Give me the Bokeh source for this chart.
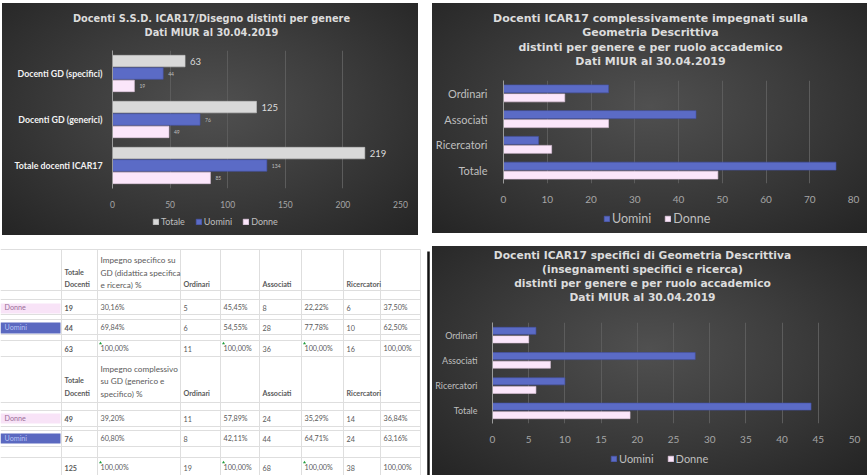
from bokeh.plotting import figure
from bokeh.layouts import row, column
from bokeh.models import (Range1d, FactorRange, SingleIntervalTicker, Legend,
                          LegendItem, Label, ColumnDataSource)
from bokeh.transform import dodge
from bokeh.core.properties import value
from bokeh.embed import file_html
from bokeh.resources import INLINE

# ---------------- data ----------------
c1_categories = ["Docenti GD (specifici)", "Docenti GD (generici)", "Totale docenti ICAR17"]
c1_totale = [63, 125, 219]
c1_uomini = [44, 76, 134]
c1_donne = [19, 49, 85]

c2_categories = ["Ordinari", "Associati", "Ricercatori", "Totale"]
c2_uomini = [24, 44, 8, 76]
c2_donne = [14, 24, 11, 49]

c3_categories = ["Ordinari", "Associati", "Ricercatori", "Totale"]
c3_uomini = [6, 28, 10, 44]
c3_donne = [5, 8, 6, 19]

c1_title = ["Docenti S.S.D. ICAR17/Disegno distinti per genere", "Dati MIUR al 30.04.2019"]
c2_title = ["Docenti ICAR17 complessivamente impegnati sulla", "Geometria Descrittiva",
            "distinti per genere e per ruolo accademico", "Dati MIUR al 30.04.2019"]
c3_title = ["Docenti ICAR17 specifici di Geometria Descrittiva", "(insegnamenti specifici e ricerca)",
            "distinti per genere e per ruolo accademico", "Dati MIUR al 30.04.2019"]

tbl_head_spec = ["Impegno specifico su", "GD (didattica specifica", "e ricerca)  %"]
tbl_head_comp = ["Impegno complessivo", "su GD (generico e", "specifico)  %"]
tbl_roles = ["Ordinari", "Associati", "Ricercatori"]
spec_donne = ["19", "30,16%", "5", "45,45%", "8", "22,22%", "6", "37,50%"]
spec_uomini = ["44", "69,84%", "6", "54,55%", "28", "77,78%", "10", "62,50%"]
spec_tot = ["63", "100,00%", "11", "100,00%", "36", "100,00%", "16", "100,00%"]
comp_donne = ["49", "39,20%", "11", "57,89%", "24", "35,29%", "14", "36,84%"]
comp_uomini = ["76", "60,80%", "8", "42,11%", "44", "64,71%", "24", "63,16%"]
comp_tot = ["125", "100,00%", "19", "100,00%", "68", "100,00%", "38", "100,00%"]

# ---------------- style ----------------
GRAD = "radial-gradient(ellipse at 50% 45%, #505050 0%, #3d3d3d 45%, #242424 100%)"
C_TOT = "#d9d9d9"
C_UOM = "#5b6bc6"
C_DON = "#fbe6fa"
TXT = "#dcdcdc"
TICK = "#a6a6a6"
FONT = "Lato"
TFONT = "DejaVu Sans"


def bg(w, h, off):
    return {"background-image": GRAD, "background-size": f"{w}px {h}px",
            "background-position": f"0px {-off}px", "background-repeat": "no-repeat",
            "background-color": "#2c2c2c"}


def strip(w, h, blk_h, off, margin):
    s = figure(width=w, height=h, x_range=Range1d(0, 1), y_range=Range1d(0, 1),
               output_backend="svg", toolbar_location=None, min_border=0,
               x_axis_location=None, y_axis_location=None, margin=margin,
               styles=bg(w, blk_h, off))
    s.grid.visible = False
    s.outline_line_color = None
    s.background_fill_alpha = 0
    s.border_fill_alpha = 0
    return s


def dark_fig(w, h, blk_h, off, cats, xmax, interval, left, right, top, bottom, margin,
             ylab_size, ylab_style, ylab_color, tick_size, standoff):
    p = figure(width=w, height=h,
               y_range=FactorRange(*cats[::-1]), x_range=Range1d(0, xmax),
               output_backend="svg", toolbar_location=None,
               min_border_left=left, min_border_right=right,
               min_border_top=top, min_border_bottom=bottom, margin=margin,
               styles=bg(w, blk_h, off))
    p.background_fill_alpha = 0
    p.border_fill_alpha = 0
    p.outline_line_color = None
    p.xaxis.ticker = SingleIntervalTicker(interval=interval)
    p.xaxis.axis_line_color = None
    p.xaxis.major_tick_line_color = None
    p.xaxis.minor_tick_line_color = None
    p.xaxis.major_label_text_color = TICK
    p.xaxis.major_label_text_font = FONT
    p.xaxis.major_label_text_font_size = tick_size
    p.xaxis.major_label_standoff = 6
    p.yaxis.axis_line_color = "#9a9a9a"
    p.yaxis.major_tick_line_color = None
    p.yaxis.minor_tick_line_color = None
    p.yaxis.major_label_text_color = ylab_color
    p.yaxis.major_label_text_font = FONT
    p.yaxis.major_label_text_font_size = ylab_size
    p.yaxis.major_label_text_font_style = ylab_style
    p.yaxis.major_label_standoff = standoff
    p.ygrid.grid_line_color = None
    p.xgrid.grid_line_color = "#5c5c5c"
    p.xgrid.grid_line_width = 1
    return p


def add_titles(s, lines, xc, ys, size):
    for t, y in zip(lines, ys):
        s.add_layout(Label(x=xc, y=y, x_units="screen", y_units="screen", text=t,
                           text_align="center", text_baseline="middle",
                           text_font=TFONT, text_font_style="bold",
                           text_font_size=size, text_color=TXT))


def add_legend(s, entries, loc, size, spacing):
    items = []
    for lab, fc, lc in entries:
        # swatch renderer kept outside the strip's visible range
        r = s.hbar(y=[-5], left=[-5], right=[-4], height=0.5, fill_color=fc, line_color=lc,
                   line_width=0.6)
        items.append(LegendItem(label=lab, renderers=[r]))
    s.add_layout(Legend(items=items, location=loc, orientation="horizontal",
                        background_fill_alpha=0, border_line_color=None,
                        label_text_color="#bfbfbf", label_text_font=FONT,
                        label_text_font_size=size, glyph_width=7, glyph_height=7,
                        label_height=9, label_standoff=2, spacing=spacing,
                        padding=0, margin=0))


UOM = ("Uomini", C_UOM, "#4453a8")
DON = ("Donne", C_DON, "#e3c9e1")
TOT = ("Totale", C_TOT, "#c4c4c4")

# ---------------- chart 1 (416 x 232 block) ----------------
ts1 = strip(416, 42, 232, 0, (3, 12, 0, 2))
add_titles(ts1, c1_title, 209, [27, 13], "9.8px")
p1 = dark_fig(416, 165, 232, 42, c1_categories, 250, 50, 110, 18, 5, 17, (0, 12, 0, 2),
              "8.8px", "bold", "#f2f2f2", "8.5px", 4)
src1 = ColumnDataSource(dict(cat=c1_categories, tot=c1_totale, uom=c1_uomini, don=c1_donne,
                             tot_l=[str(v) for v in c1_totale],
                             uom_l=[str(v) for v in c1_uomini],
                             don_l=[str(v) for v in c1_donne]))
for fld, off, (lab, fc, lc) in [("tot", 0.27, TOT), ("uom", 0.0, UOM), ("don", -0.27, DON)]:
    p1.hbar(y=dodge("cat", off, range=p1.y_range), left=0, right=fld, height=0.25,
            source=src1, fill_color=fc, line_color=lc, line_width=0.6)
p1.text(x="tot", y=dodge("cat", 0.27, range=p1.y_range), text="tot_l", source=src1,
        x_offset=5, text_baseline="middle", text_font=value(FONT), text_font_size="9.5px",
        text_color=TXT)
p1.text(x="uom", y=dodge("cat", 0.0, range=p1.y_range), text="uom_l", source=src1,
        x_offset=5, text_baseline="middle", text_font=value(FONT), text_font_size="5px",
        text_color="#bfbfbf")
p1.text(x="don", y=dodge("cat", -0.27, range=p1.y_range), text="don_l", source=src1,
        x_offset=5, text_baseline="middle", text_font=value(FONT), text_font_size="5px",
        text_color="#bfbfbf")
lg1 = strip(416, 25, 232, 207, (0, 12, 0, 2))
add_legend(lg1, [TOT, UOM, DON], (150, 8), "9px", 10)

# ---------------- chart 2 (435 x 230 block) ----------------
ts2 = strip(435, 73, 230, 0, (3, 0, 0, 2))
add_titles(ts2, c2_title, 218, [58, 44, 29, 15], "11px")
p2 = dark_fig(435, 132, 230, 73, c2_categories, 80, 10, 71, 14, 4, 25, (0, 0, 0, 2),
              "11px", "normal", "#bfbfbf", "10px", 10)
src2 = ColumnDataSource(dict(cat=c2_categories, uom=c2_uomini, don=c2_donne))
for fld, off, (lab, fc, lc) in [("uom", 0.175, UOM), ("don", -0.175, DON)]:
    p2.hbar(y=dodge("cat", off, range=p2.y_range), left=0, right=fld, height=0.31,
            source=src2, fill_color=fc, line_color=lc, line_width=0.6)
lg2 = strip(435, 25, 230, 205, (0, 0, 0, 2))
add_legend(lg2, [UOM, DON], (171, 7), "12.5px", 13)

# ---------------- chart 3 (435 x 229 block) ----------------
ts3 = strip(435, 72, 229, 0, (13, 0, 0, 2))
add_titles(ts3, c3_title, 210, [63, 49, 35, 21], "10.7px")
p3 = dark_fig(435, 129, 229, 72, c3_categories, 50, 5, 60, 13, 4, 24, (0, 0, 0, 2),
              "9px", "normal", "#bfbfbf", "10px", 9)
src3 = ColumnDataSource(dict(cat=c3_categories, uom=c3_uomini, don=c3_donne))
for fld, off, (lab, fc, lc) in [("uom", 0.17, UOM), ("don", -0.17, DON)]:
    p3.hbar(y=dodge("cat", off, range=p3.y_range), left=0, right=fld, height=0.28,
            source=src3, fill_color=fc, line_color=lc, line_width=0.6)
lg3 = strip(435, 28, 229, 201, (0, 0, 0, 2))
add_legend(lg3, [UOM, DON], (178, 10), "11px", 13)

# ---------------- table ----------------
t = figure(width=430, height=231, x_range=Range1d(0, 430), y_range=Range1d(475, 244),
           output_backend="svg", toolbar_location=None, min_border=0, margin=(9, 0, 0, 0),
           x_axis_location=None, y_axis_location=None)
t.grid.visible = False
t.outline_line_color = None

col_lines = [61, 97, 180, 220, 259, 301, 343, 380, 420]
col_text = [4, 64, 100, 183, 223, 262, 304, 346, 383]
row_lines = [249, 290, 299, 314, 319, 334, 340, 356, 402, 410, 426, 430, 446, 457, 475]
TGRAY = "#5a5a5a"
TLINE = "#dedede"

t.segment(x0=[0] * len(row_lines), x1=[420] * len(row_lines), y0=row_lines, y1=row_lines,
          line_color=TLINE, line_width=1)
t.segment(x0=col_lines, x1=col_lines, y0=[249] * len(col_lines), y1=[475] * len(col_lines),
          line_color=TLINE, line_width=1)
t.quad(left=[0, 0], right=[60, 60], top=[303, 413], bottom=[313, 423], fill_color="#f8e3f7",
       line_color=None)
t.quad(left=[0, 0], right=[60, 60], top=[322, 433], bottom=[333, 443], fill_color="#5b69c0",
       line_color=None)
t.segment(x0=[428], x1=[428], y0=[251], y1=[475], line_color="#111111", line_width=2.5)


def ttext(xs, ys, texts, color=TGRAY, style="normal", size="7.2px"):
    t.text(x=xs, y=ys, text=texts, text_baseline="middle", text_font=value(FONT),
           text_font_size=size, text_color=color, text_font_style=style)


for hy, head, data_rows in [((259, 272, 284), tbl_head_spec,
                              [(307, spec_donne), (327, spec_uomini), (348, spec_tot)]),
                             ((368, 380, 393), tbl_head_comp,
                              [(418, comp_donne), (438, comp_uomini), (467, comp_tot)])]:
    ttext([col_text[1], col_text[1]], [hy[1], hy[2]], ["Totale", "Docenti"], style="bold")
    ttext([col_text[2]] * 3, list(hy), head, size="8.2px")
    ttext([col_text[3], col_text[5], col_text[7]], [hy[2]] * 3, tbl_roles, style="bold")
    ttext([col_text[0]], [data_rows[0][0]], ["Donne"], color="#9a6d98")
    ttext([col_text[0]], [data_rows[1][0]], ["Uomini"], color="#b9c3f5")
    for ry, vals in data_rows:
        ttext([col_text[1]], [ry], [vals[0]], style="bold")
        ttext(col_text[2:], [ry] * 7, vals[1:])
    tot_y = data_rows[2][0]
    t.scatter(x=[col_lines[1] + 3, col_lines[3] + 3, col_lines[5] + 3],
              y=[tot_y - 5] * 3, marker="triangle", size=3, fill_color="#1f9d3b",
              line_color=None)

left_col = column(row(ts1), row(p1), row(lg1), row(t), spacing=0)
right_col = column(row(ts2), row(p2), row(lg2), row(ts3), row(p3), row(lg3), spacing=0)
layout = row(left_col, right_col, spacing=0)

open("out.html", "w").write(file_html(layout, INLINE))
